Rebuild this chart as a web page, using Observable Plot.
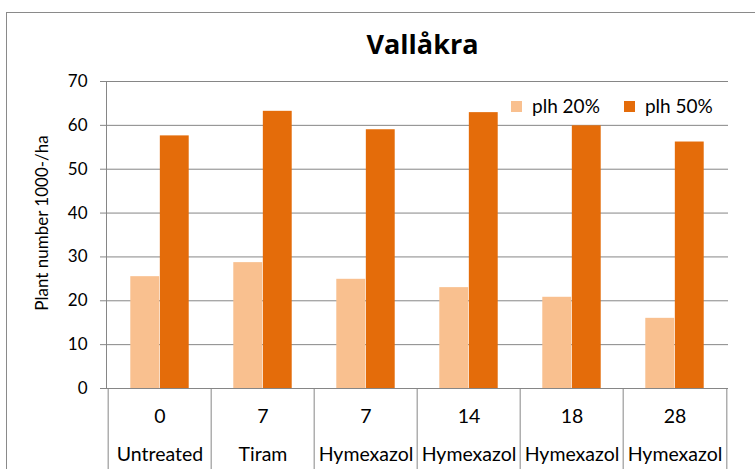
<!DOCTYPE html>
<html>
<head>
<meta charset="utf-8">
<script src="https://cdn.jsdelivr.net/npm/d3@7"></script>
<script src="https://cdn.jsdelivr.net/npm/@observablehq/plot@0.6"></script>
<style>
  html, body { margin: 0; padding: 0; background: #fff; overflow: hidden; }
  body { font-family: Lato, "Open Sans", sans-serif; }
  #wrap { position: relative; width: 755px; height: 469px; overflow: hidden; }
  #border { position: absolute; left: 6px; top: 12px; width: 900px; height: 600px;
            border-left: 1px solid #8a8a8a; border-top: 1px solid #8a8a8a; }
  #title { position: absolute; left: 0; top: 0; width: 755px; height: 60px; box-sizing: border-box;
           padding-left: 90px; padding-top: 30px; text-align: center;
           font-family: "Open Sans", Lato, sans-serif;
           font-weight: 700; font-size: 27px; line-height: 27px; color: #000; }
  #chart { position: absolute; left: 0; top: 60px; }
  #legend { position: absolute; top: 95px; left: 511px; font-size: 19px; line-height: 22px; color: #000; display: flex; }
  #legend .item { display: flex; align-items: center; }
  #legend .sw { width: 11px; height: 11px; margin-right: 10px; }
</style>
</head>
<body>
<div id="wrap">
  <div id="border"></div>
  <div id="title">Vallåkra</div>
  <div id="chart"></div>
  <div id="legend"></div>
</div>
<script>
const doses = ["0", "7", "7", "14", "18", "28"];
const treatments = ["Untreated", "Tiram", "Hymexazol", "Hymexazol", "Hymexazol", "Hymexazol"];
const plh20 = [25.5, 28.7, 24.9, 23.0, 20.8, 16.0];
const plh50 = [57.6, 63.2, 59.0, 62.9, 59.9, 56.2];
const seriesNames = ["plh 20%", "plh 50%"];
const seriesColors = ["#f9c08f", "#e46c0a"];
const yTicks = [0, 10, 20, 30, 40, 50, 60, 70];
const yLabel = "Plant number 1000-/ha";

const W = 755, H = 409;
const mL = 106, mR = 27, mT = 21, mB = 81;
const keys = doses.map((d, i) => i);
const bw = (W - mL - mR) / keys.length;
const barW = bw * 0.285;
const gap = (bw - 2 * barW) / 2;

const rows = keys.map(i => ({i, dose: doses[i], treatment: treatments[i], v20: plh20[i], v50: plh50[i]}));
const grid = "#868686";

const chart = Plot.plot({
  width: W, height: H,
  marginLeft: mL, marginRight: mR, marginTop: mT, marginBottom: mB,
  style: {fontFamily: "Lato, 'Open Sans', sans-serif", fontSize: "17px", color: "#000", background: "transparent"},
  x: {type: "band", domain: keys, padding: 0, axis: null},
  y: {domain: [0, 70], axis: null},
  marks: [
    Plot.gridY(yTicks, {stroke: grid, strokeOpacity: 1}),
    Plot.barY(rows, {x: "i", y: "v20", fill: seriesColors[0], insetLeft: gap, insetRight: gap + barW}),
    Plot.barY(rows, {x: "i", y: "v50", fill: seriesColors[1], insetLeft: gap + barW, insetRight: gap}),
    Plot.frame({anchor: "left", stroke: grid}),
    Plot.axisY(yTicks, {tickSize: 6, tickPadding: 13, stroke: grid, fontSize: 17, label: null}),
    Plot.text([yLabel], {frameAnchor: "left", textAnchor: "middle", rotate: -90, dx: -64, dy: -12, fontSize: 17, fill: "#000"}),
    Plot.axisX(keys, {tickSize: mB, dx: -bw / 2, stroke: grid, tickFormat: () => "", label: null}),
    Plot.axisX([keys[keys.length - 1]], {tickSize: mB, dx: bw / 2, stroke: grid, tickFormat: () => "", label: null}),
    Plot.axisX(keys, {tickSize: 0, tickPadding: 21, tickFormat: i => doses[i], fontSize: 19.5, label: null}),
    Plot.axisX(keys, {tickSize: 0, tickPadding: 59, tickFormat: i => treatments[i], fontSize: 19.5, label: null})
  ]
});
document.getElementById("chart").appendChild(chart);

const legend = document.getElementById("legend");
seriesNames.forEach((name, k) => {
  const item = document.createElement("div");
  item.className = "item";
  if (k > 0) item.style.marginLeft = "24px";
  const sw = document.createElement("div");
  sw.className = "sw";
  sw.style.background = seriesColors[k];
  const t = document.createElement("span");
  t.textContent = name;
  item.appendChild(sw); item.appendChild(t);
  legend.appendChild(item);
});
</script>
</body>
</html>
